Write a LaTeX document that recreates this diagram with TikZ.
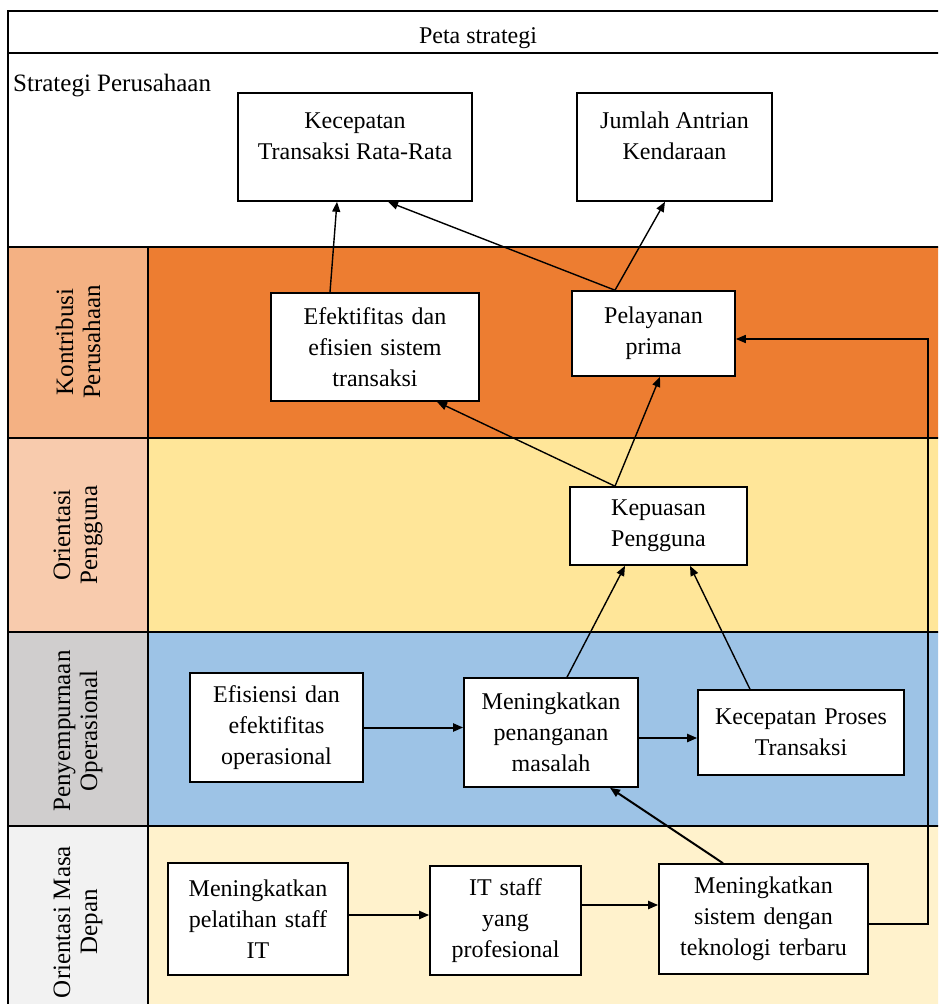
\documentclass[tikz,border=0pt]{standalone}
\usepackage{fontspec}
\setmainfont{Liberation Serif}
\usetikzlibrary{arrows.meta,calc}
\definecolor{orangeL}{HTML}{ED7D31}
\definecolor{orangeH}{HTML}{F4B183}
\definecolor{yellowL}{HTML}{FFE699}
\definecolor{peachH}{HTML}{F8CBAD}
\definecolor{blueL}{HTML}{9DC3E6}
\definecolor{grayH}{HTML}{D0CECE}
\definecolor{creamL}{HTML}{FFF2CC}
\definecolor{lightH}{HTML}{F2F2F2}
\newcommand{\upstack}[1]{\raisebox{3pt}[0pt][0pt]{\begin{tabular}{@{}c@{}}#1\end{tabular}}}
\begin{document}
\begin{tikzpicture}[x=1pt,y=-1pt,
  box/.style={draw=black, line width=1.6pt, fill=white, align=center, inner sep=0pt,
    font=\fontsize{24}{31}\selectfont},
  arr/.style={-{Triangle[length=10pt,width=8pt]}, line width=1.4pt},
  harr/.style={arr, line width=2pt},
  lanelabel/.style={rotate=90, align=center, font=\fontsize{25}{27}\selectfont},
  sep/.style={line width=2.4pt}]
\useasboundingbox (0,0) rectangle (938,1004);
\begin{scope}
\clip (0,0) rectangle (938,1004);
\fill[white] (0,0) rectangle (938,1004);
% lanes
\fill[orangeL] (148,247) rectangle (950,438);
\fill[orangeH] (8,247) rectangle (148,438);
\fill[yellowL] (148,438) rectangle (950,632);
\fill[peachH] (8,438) rectangle (148,632);
\fill[blueL] (148,632) rectangle (950,826);
\fill[grayH] (8,632) rectangle (148,826);
\fill[creamL] (148,826) rectangle (950,1010);
\fill[lightH] (8,826) rectangle (148,1010);
% lines
\draw[sep] (8,11) -- (950,11);
\draw[sep] (8,53) -- (950,53);
\draw[sep] (8,247) -- (950,247);
\draw[sep] (8,438) -- (950,438);
\draw[sep] (8,632) -- (950,632);
\draw[sep] (8,826) -- (950,826);
\draw[sep] (8,10) -- (8,1010);
\draw[line width=1.6pt] (148,247) -- (148,1010);
\end{scope}
% titles
\node[font=\fontsize{24}{29}\selectfont] (title) at (478,38) {Peta strategi};
\node[font=\fontsize{25}{29}\selectfont, anchor=west, inner sep=0pt] (strat) at (13,86) {Strategi Perusahaan};
% lane labels
\node[lanelabel] (l1) at (78,342) {Kontribusi\\Perusahaan};
\node[lanelabel] (l2) at (78,535) {Orientasi\\Pengguna};
\node[lanelabel] (l3) at (78,731) {Penyempurnaan\\Operasional};
\node[lanelabel] (l4) at (78,922) {Orientasi Masa\\Depan};
% boxes
\node[box, minimum width=234pt, minimum height=108pt] (kec) at (355,147) {\upstack{Kecepatan\\Transaksi Rata-Rata}};
\node[box, minimum width=195pt, minimum height=108pt] (jum) at (674.5,147) {\upstack{Jumlah Antrian\\Kendaraan}};
\node[box, minimum width=208pt, minimum height=108pt, text width=198pt] (efek) at (375,347) {Efektifitas dan\\efisien sistem\\transaksi};
\node[box, minimum width=163pt, minimum height=85pt, text width=153pt] (pel) at (653.5,333.5) {Pelayanan\\prima};
\node[box, minimum width=177pt, minimum height=78pt, text width=167pt] (kep) at (658.5,526) {Kepuasan\\Pengguna};
\node[box, minimum width=173pt, minimum height=109pt, text width=163pt] (efis) at (276.5,727.5) {Efisiensi dan\\efektifitas\\operasional};
\node[box, minimum width=174pt, minimum height=109pt, text width=164pt] (pen) at (551,732.5) {Meningkatkan\\penanganan\\masalah};
\node[box, minimum width=206pt, minimum height=85pt, text width=196pt] (kpt) at (801,732.5) {Kecepatan Proses\\Transaksi};
\node[box, minimum width=180pt, minimum height=112pt, text width=170pt] (pela) at (258,919) {Meningkatkan\\pelatihan staff\\IT};
\node[box, minimum width=151pt, minimum height=109pt, text width=141pt] (its) at (505.5,920.5) {IT staff\\yang\\profesional};
\node[box, minimum width=209pt, minimum height=110pt, text width=199pt] (msis) at (763.5,919) {Meningkatkan\\sistem dengan\\teknologi terbaru};
% connectors
\draw[arr] ([xshift=-45pt]efek.north) -- ([xshift=-18pt]kec.south);
\draw[arr] ([xshift=-38.5pt]pel.north) -- ([xshift=33pt]kec.south);
\draw[arr] ([xshift=-38.5pt]pel.north) -- ([xshift=-9.5pt]jum.south);
\draw[arr] ([xshift=-43.5pt]kep.north) -- ([xshift=62pt]efek.south);
\draw[arr] ([xshift=-43.5pt]kep.north) -- ([xshift=6.5pt]pel.south);
\draw[arr] ([xshift=16pt]pen.north) -- ([xshift=-33.5pt]kep.south);
\draw[arr] ([xshift=-51pt]kpt.north) -- ([xshift=31.5pt]kep.south);
\draw[harr] (efis.east) -- (efis.east -| pen.west);
\draw[harr] ([yshift=-5.5pt]pen.east) -- ([yshift=-5.5pt]pen.east -| kpt.west);
\draw[harr] ([xshift=-40.5pt]msis.north) -- ([xshift=59pt]pen.south);
\draw[harr] ([yshift=4pt]pela.east) -- ([yshift=4pt]pela.east -| its.west);
\draw[harr] ([yshift=15.5pt]its.east) -- ([yshift=15.5pt]its.east -| msis.west);
\coordinate (rb) at (928,924);
\coordinate (rt) at (928,339);
\draw[arr, line width=1.6pt] (msis.east |- rb) -- (rb) -- (rt) -- (rt -| pel.east);
\end{tikzpicture}
\end{document}
